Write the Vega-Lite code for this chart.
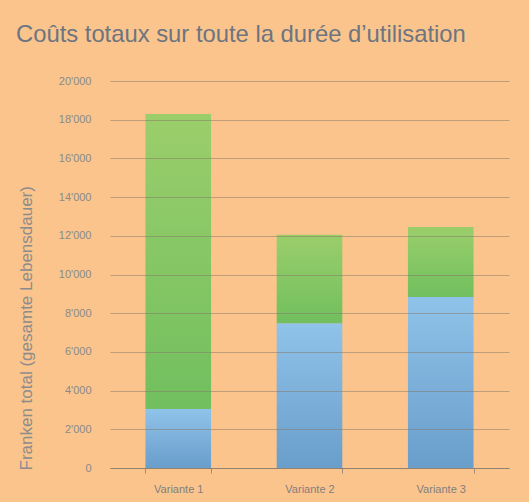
{
  "$schema": "https://vega.github.io/schema/vega-lite/v6.json",
  "width": 399,
  "height": 387,
  "autosize": {"type": "none"},
  "padding": {"left": 110, "top": 81, "right": 20, "bottom": 34},
  "background": "#FBC48D",
  "title": {
    "text": "Coûts totaux sur toute la durée d’utilisation",
    "anchor": "start",
    "frame": "group",
    "dx": -94,
    "offset": 28,
    "fontSize": 23.8,
    "font": "Liberation Sans",
    "fontWeight": "normal",
    "color": "#6C7580"
  },
  "config": {"view": {"stroke": null}, "font": "Liberation Sans"},
  "data": {
    "values": [
      {"variante": "Variante 1", "teil": "Anschaffung", "wert": 3050},
      {"variante": "Variante 1", "teil": "Betrieb", "wert": 15250},
      {"variante": "Variante 2", "teil": "Anschaffung", "wert": 7480},
      {"variante": "Variante 2", "teil": "Betrieb", "wert": 4580},
      {"variante": "Variante 3", "teil": "Anschaffung", "wert": 8840},
      {"variante": "Variante 3", "teil": "Betrieb", "wert": 3620}
    ]
  },
  "transform": [
    {"stack": "wert", "groupby": ["variante"], "sort": [{"field": "teil", "order": "ascending"}], "as": ["y0", "y1"]}
  ],
  "encoding": {
    "x": {
      "field": "variante",
      "type": "nominal",
      "sort": null,
      "scale": {"paddingInner": 0.5, "paddingOuter": 0.27},
      "axis": {
        "title": null,
        "labelAngle": 0,
        "labelFontSize": 11,
        "labelColor": "#7F7F7F",
        "labelPadding": 10,
        "domainColor": "#A08C7A",
        "tickColor": "#A08C7A",
        "tickSize": 5,
        "tickBand": "extent",
        "grid": false
      }
    },
    "y": {
      "field": "y1",
      "type": "quantitative",
      "scale": {"domain": [0, 20000]},
      "axis": {
        "title": "Franken total (gesamte Lebensdauer)",
        "titleFontSize": 17,
        "titleFontWeight": "normal",
        "titleColor": "#8C8C8C",
        "titleAngle": -90,
        "titleX": -92,
        "titleY": 389,
        "titleAlign": "left",
        "titleBaseline": "top",
        "values": [0, 2000, 4000, 6000, 8000, 10000, 12000, 14000, 16000, 18000, 20000],
        "labelExpr": "replace(format(datum.value, ','), ',', \"'\")",
        "labelFontSize": 11,
        "labelColor": "#8A8A8A",
        "labelPadding": 19,
        "ticks": false,
        "domain": false,
        "grid": true,
        "gridColor": "#857565",
        "gridOpacity": 0.5,
        "zindex": 1
      }
    },
    "y2": {"field": "y0"}
  },
  "layer": [
    {
      "transform": [{"filter": "datum.teil === 'Anschaffung'"}],
      "mark": {
        "type": "bar",
        "fill": {
          "gradient": "linear",
          "x1": 0, "y1": 0, "x2": 0, "y2": 1,
          "stops": [
            {"offset": 0, "color": "#8FC3E9"},
            {"offset": 1, "color": "#6A9ECB"}
          ]
        }
      }
    },
    {
      "transform": [{"filter": "datum.teil === 'Betrieb'"}],
      "mark": {
        "type": "bar",
        "fill": {
          "gradient": "linear",
          "x1": 0, "y1": 0, "x2": 0, "y2": 1,
          "stops": [
            {"offset": 0, "color": "#9BCE6B"},
            {"offset": 1, "color": "#71BF5F"}
          ]
        }
      }
    }
  ]
}
